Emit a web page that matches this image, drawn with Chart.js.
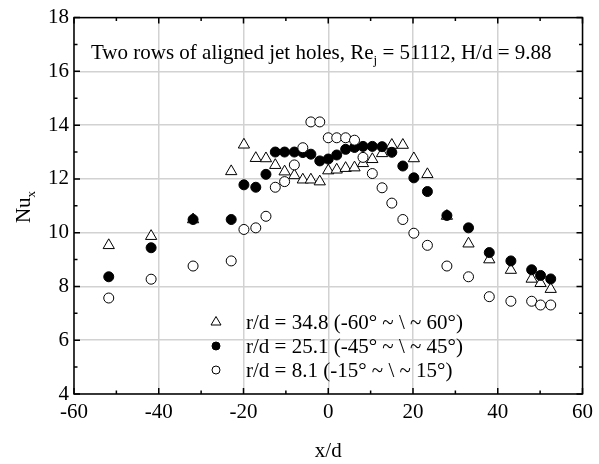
<!DOCTYPE html>
<html>
<head>
<meta charset="utf-8">
<script src="https://cdn.jsdelivr.net/npm/chart.js@4.4.1/dist/chart.umd.min.js"></script>
<style>
  html, body { margin: 0; padding: 0; background: #fff; }
</style>
</head>
<body>
<canvas id="nuChart" width="599" height="464"></canvas>
<script>
// streamwise positions x/d, shared by the three radial stations
const xPos = [-51.8, -41.8, -31.9, -22.9, -19.9, -17.1, -14.7, -12.5, -10.3, -8.0, -6.0, -4.1, -2.0, 0.0,
  2.0, 4.1, 6.2, 8.2, 10.4, 12.7, 15.0, 17.6, 20.2, 23.4, 28.0, 33.1, 38.0, 43.1, 48.0, 50.1, 52.5]

// local Nusselt number Nu_x at each station
const nuR348 = [9.53, 9.87, 10.49, 12.28, 13.27, 12.77, 12.76, 12.51, 12.27, 12.13, 11.97, 11.97, 11.90, 12.31,
  12.34, 12.40, 12.42, 12.58, 12.73, 12.95, 13.26, 13.26, 12.76, 12.17, 10.62, 9.59, 9.00, 8.61, 8.28, 8.12, 7.90]
const nuR251 = [8.36, 9.44, 10.49, 10.49, 11.78, 11.69, 12.17, 13.00, 13.00, 13.00, 12.98, 12.92, 12.67, 12.74,
  12.89, 13.10, 13.17, 13.21, 13.21, 13.20, 12.99, 12.48, 12.04, 11.53, 10.64, 10.18, 9.26, 8.95, 8.62, 8.41, 8.28]
const nuR81 = [7.57, 8.27, 8.76, 8.95, 10.12, 10.18, 10.61, 11.69, 11.90, 12.52, 13.16, 14.12, 14.12, 13.53,
  13.53, 13.53, 13.44, 12.80, 12.20, 11.67, 11.10, 10.49, 9.98, 9.53, 8.76, 8.36, 7.62, 7.45, 7.45, 7.31, 7.31]

const seriesLabels = ['r/d = 34.8 (-60° ~ \\ ~ 60°)', 'r/d = 25.1 (-45° ~ \\ ~ 45°)', 'r/d = 8.1 (-15° ~ \\ ~ 15°)']
const xTicks = [-60, -40, -20, 0, 20, 40, 60]
const yTicks = [4, 6, 8, 10, 12, 14, 16, 18]

const FONT = '"Liberation Serif", "Times New Roman", serif'
const FS = 21

function toPoints(ys) {
  return xPos.map((x, i) => ({ x: x, y: ys[i] }))
}

// text runs like [['Re', false], ['j', true]] where true means subscript
function drawRuns(ctx, runs, x, y, size, align) {
  const subSize = Math.round(size * 0.6)
  let total = 0
  runs.forEach(r => {
    ctx.font = (r[1] ? subSize : size) + 'px ' + FONT
    total += ctx.measureText(r[0]).width
  })
  let cx = align === 'center' ? x - total / 2 : x
  ctx.textAlign = 'left'
  ctx.textBaseline = 'alphabetic'
  runs.forEach(r => {
    ctx.font = (r[1] ? subSize : size) + 'px ' + FONT
    ctx.fillText(r[0], cx, r[1] ? y + size * 0.25 : y)
    cx += ctx.measureText(r[0]).width
  })
}

const framePlugin = {
  id: 'frame',
  afterDraw(chart) {
    const { ctx, chartArea: a, scales: { x, y } } = chart
    ctx.save()
    ctx.strokeStyle = '#000'
    ctx.lineWidth = 1.5
    ctx.strokeRect(a.left, a.top, a.right - a.left, a.bottom - a.top)

    // inward ticks on all four sides
    ctx.beginPath()
    for (let v = -60; v <= 60; v += 10) {
      const px = x.getPixelForValue(v)
      const len = v % 20 === 0 ? 6 : 3.5
      ctx.moveTo(px, a.bottom); ctx.lineTo(px, a.bottom - len)
      ctx.moveTo(px, a.top); ctx.lineTo(px, a.top + len)
    }
    for (let v = 4; v <= 18; v += 1) {
      const py = y.getPixelForValue(v)
      const len = v % 2 === 0 ? 6 : 3.5
      ctx.moveTo(a.left, py); ctx.lineTo(a.left + len, py)
      ctx.moveTo(a.right, py); ctx.lineTo(a.right - len, py)
    }
    ctx.stroke()

    ctx.fillStyle = '#000'
    drawRuns(ctx, [['Two rows of aligned jet holes, Re', false], ['j', true], [' = 51112, H/d = 9.88', false]], 91, 59, FS, 'left')

    // axis titles
    drawRuns(ctx, [['x/d', false]], (a.left + a.right) / 2, 457, FS, 'center')
    ctx.save()
    ctx.translate(30, 207)
    ctx.rotate(-Math.PI / 2)
    drawRuns(ctx, [['Nu', false], ['x', true]], 0, 0, FS, 'center')
    ctx.restore()

    // legend
    chart.data.datasets.forEach((ds, i) => {
      const ly = 322 + i * 24
      ctx.fillStyle = ds.backgroundColor
      ctx.strokeStyle = '#000'
      ctx.lineWidth = 1
      ctx.beginPath()
      if (ds.pointStyle === 'triangle') {
        ctx.moveTo(216, ly - 5.5)
        ctx.lineTo(216 + 5, ly + 3)
        ctx.lineTo(216 - 5, ly + 3)
        ctx.closePath()
      } else {
        ctx.arc(216, ly, 4, 0, Math.PI * 2)
      }
      ctx.fill()
      ctx.stroke()
      ctx.fillStyle = '#000'
      ctx.font = FS + 'px ' + FONT
      ctx.textAlign = 'left'
      ctx.textBaseline = 'middle'
      ctx.fillText(ds.label, 246, ly + 1)
    })
    ctx.restore()
  }
}

const nuChart = new Chart(document.getElementById('nuChart'), {
  type: 'scatter',
  data: {
    datasets: [{
      label: seriesLabels[0],
      data: toPoints(nuR348),
      order: 2,
      pointStyle: 'triangle',
      pointRadius: 6.5,
      backgroundColor: '#fff',
      borderColor: '#000',
      borderWidth: 1
    }, {
      label: seriesLabels[1],
      data: toPoints(nuR251),
      order: 1,
      pointStyle: 'circle',
      pointRadius: 5,
      backgroundColor: '#000',
      borderColor: '#000',
      borderWidth: 1
    }, {
      label: seriesLabels[2],
      data: toPoints(nuR81),
      order: 0,
      pointStyle: 'circle',
      pointRadius: 5,
      backgroundColor: '#fff',
      borderColor: '#000',
      borderWidth: 1
    }]
  },
  options: {
    responsive: false,
    animation: false,
    layout: { autoPadding: false, padding: { top: 15, right: 12, left: 0, bottom: 0 } },
    plugins: { legend: { display: false }, tooltip: { enabled: false } },
    scales: {
      x: {
        type: 'linear',
        min: -60,
        max: 60,
        afterFit: s => { s.height = 70 },
        afterBuildTicks: s => { s.ticks = xTicks.map(v => ({ value: v })) },
        grid: { color: '#d2d2d2', lineWidth: 1.5, drawTicks: false },
        border: { display: false },
        ticks: { padding: 6, color: '#000', font: { family: FONT, size: FS } }
      },
      y: {
        type: 'linear',
        min: 4,
        max: 18,
        afterFit: s => { s.width = 74 },
        afterBuildTicks: s => { s.ticks = yTicks.map(v => ({ value: v })) },
        grid: { color: '#d2d2d2', lineWidth: 1.5, drawTicks: false },
        border: { display: false },
        ticks: { padding: 5, color: '#000', font: { family: FONT, size: FS } }
      }
    }
  },
  plugins: [framePlugin]
})
</script>
</body>
</html>
